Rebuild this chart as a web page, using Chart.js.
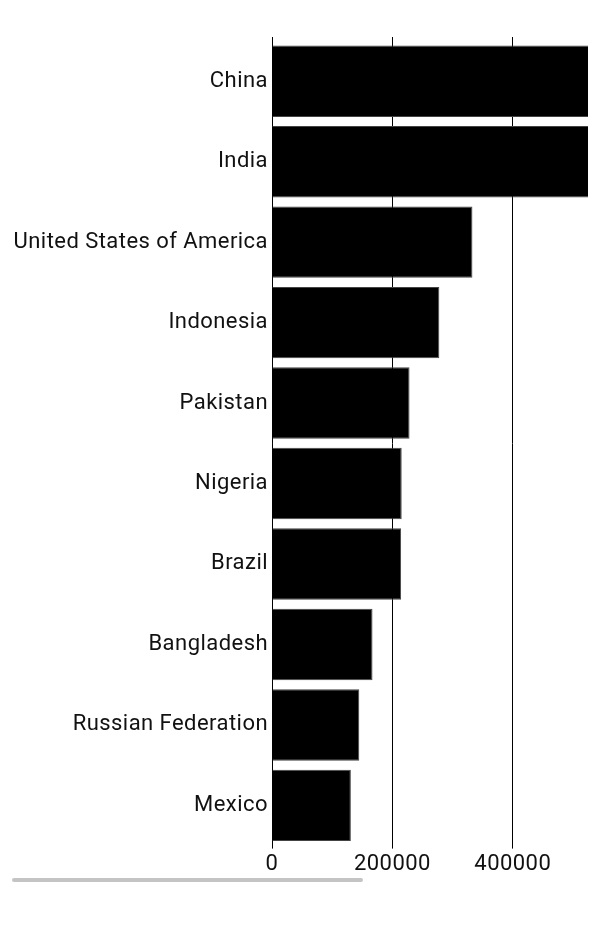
<!DOCTYPE html>
<html>
<head>
<meta charset="utf-8">
<script src="https://cdn.jsdelivr.net/npm/chart.js@4"></script>
<style>
  html, body { margin: 0; padding: 0; background: #fff; overflow: hidden; }
  #wrap { position: relative; width: 597px; height: 932px; }
  #bar { position: absolute; left: 12px; top: 878px; width: 351px; height: 4px; background: #c4c4c4; border-radius: 2px; }
</style>
</head>
<body>
<div id="wrap">
  <canvas id="c"></canvas>
  <div id="bar"></div>
</div>
<script>
const countries = ["China", "India", "United States of America", "Indonesia", "Pakistan", "Nigeria", "Brazil", "Bangladesh", "Russian Federation", "Mexico"];
const population = [1439324, 1380004, 333000, 278000, 228500, 215500, 214500, 167000, 145000, 131000];
const tickValues = [0, 200000, 400000];
const xMax = 525000;

const setTicks = s => { s.ticks = tickValues.map(v => ({ value: v })); };
const font = { family: "Roboto", size: 22 };
const LS = "0.45px";

const spacing = {
  id: "spacing",
  beforeUpdate(chart) { chart.ctx.letterSpacing = LS; },
  beforeLayout(chart) { chart.ctx.letterSpacing = LS; },
  beforeDraw(chart) { chart.ctx.letterSpacing = LS; }
};

new Chart(document.getElementById("c"), {
  type: "bar",
  data: {
    labels: countries,
    datasets: [{
      data: population,
      backgroundColor: "#000",
      borderColor: "#444",
      borderWidth: 1,
      categoryPercentage: 1,
      barPercentage: 0.888,
      clip: { left: 10, top: 10, right: 0, bottom: 10 }
    }]
  },
  plugins: [spacing],
  options: {
    indexAxis: "y",
    responsive: true,
    maintainAspectRatio: false,
    animation: false,
    devicePixelRatio: 1,
    layout: { padding: { top: 37, left: 0, right: 9, bottom: 51 } },
    plugins: { legend: { display: false }, tooltip: { enabled: false } },
    scales: {
      y: {
        grid: { display: false, drawTicks: false },
        border: { display: true, color: "#000", width: 1 },
        ticks: { font: font, color: "#111", padding: 4 },
        afterFit: s => { s.width = 272; }
      },
      x: {
        position: "bottom",
        min: 0, max: xMax,
        ticks: { font: font, color: "#111", padding: 3, maxRotation: 0, autoSkip: false, callback: v => String(v) },
        grid: { color: "#000", lineWidth: 1, tickLength: 3 },
        border: { display: false },
        afterBuildTicks: setTicks
      },
      x2: {
        axis: "x",
        position: "top",
        min: 0, max: xMax,
        ticks: { display: false, autoSkip: false },
        grid: { color: "#000", lineWidth: 1, tickLength: 4, drawOnChartArea: false },
        border: { display: false },
        afterBuildTicks: setTicks
      }
    }
  }
});
</script>
</body>
</html>
